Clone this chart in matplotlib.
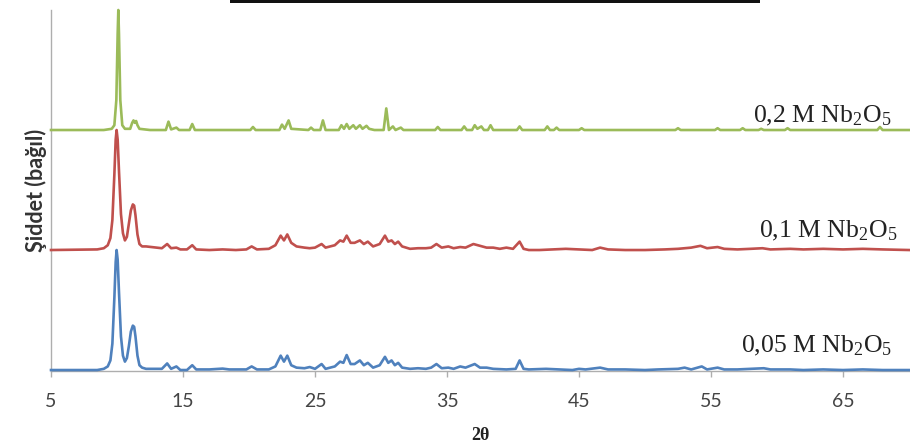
import matplotlib
matplotlib.use("Agg")
import matplotlib.pyplot as plt
from matplotlib.patches import Rectangle

plt.rcParams['mathtext.fontset'] = 'custom'
plt.rcParams['mathtext.rm'] = 'Liberation Serif'
plt.rcParams['mathtext.it'] = 'Liberation Serif:italic'
plt.rcParams['mathtext.bf'] = 'Liberation Serif:bold'

# ---- data (2theta, relative intensity above each pattern's baseline) ----
blue_2theta = [5.0, 8.5, 9.0, 9.3, 9.5, 9.65, 9.8, 9.9, 9.97, 10.05, 10.15, 10.3, 10.45, 10.6, 10.75, 10.9, 11.05, 11.2,
               11.3, 11.4, 11.55, 11.7, 11.9,
               12.2, 12.8, 13.4, 13.8, 14.1, 14.5, 14.8, 15.3, 15.7, 16.0, 17.0, 18.0, 18.5, 19.8, 20.2, 20.6, 21.5, 22.0,
               22.4, 22.65, 22.9, 23.2, 23.6, 24.2, 24.6, 25.0, 25.5, 25.8, 26.5, 26.9, 27.15, 27.4, 27.7, 28.0, 28.4, 28.7,
               29.0, 29.4, 29.9, 30.3, 30.55, 30.8, 31.05, 31.3, 31.6, 32.2, 32.8, 33.4, 33.8, 34.2, 34.6, 35.1, 35.5, 36.0,
               36.4, 37.1, 37.5, 38.0, 38.5, 39.5, 40.2, 40.5, 40.8, 41.2, 42.5, 43.5, 44.5, 45.0, 45.5, 46.6, 47.2, 48.5,
               50.0, 51.0, 52.5, 53.0, 53.5, 54.3, 54.7, 55.5, 56.0, 57.0, 58.0, 59.0, 59.5, 61.0, 62.0, 63.5, 65.0, 66.5,
               68.0, 70.0]
blue_I = [0.0, 0.0, 0.01, 0.03, 0.08, 0.22, 0.6, 0.9, 1.0, 0.92, 0.65, 0.28, 0.12, 0.07, 0.1, 0.2, 0.32, 0.37,
          0.36, 0.28, 0.12, 0.04, 0.02,
          0.01, 0.01, 0.01, 0.055, 0.01, 0.03, 0.0, 0.0, 0.04, 0.005, 0.005, 0.012, 0.005, 0.005, 0.03, 0.005, 0.005, 0.03,
          0.12, 0.07, 0.12, 0.04, 0.02, 0.015, 0.025, 0.01, 0.05, 0.01, 0.03, 0.07, 0.06, 0.125, 0.05, 0.05, 0.08, 0.04,
          0.06, 0.02, 0.04, 0.11, 0.06, 0.08, 0.04, 0.06, 0.02, 0.01, 0.015, 0.01, 0.02, 0.05, 0.015, 0.02, 0.01, 0.03,
          0.02, 0.05, 0.02, 0.02, 0.01, 0.005, 0.01, 0.08, 0.01, 0.005, 0.01, 0.005, 0.0, 0.01, 0.005, 0.02, 0.005, 0.005,
          0.0, 0.005, 0.01, 0.02, 0.005, 0.03, 0.005, 0.02, 0.005, 0.005, 0.01, 0.015, 0.005, 0.005, 0.0, 0.005, 0.0, 0.005,
          0.0, 0.0]

red_2theta = [5.0, 8.5, 9.0, 9.3, 9.5, 9.65, 9.8, 9.9, 9.97, 10.05, 10.15, 10.3, 10.45, 10.6, 10.75, 10.9, 11.05, 11.2,
              11.3, 11.4, 11.55, 11.7, 11.9,
              12.2, 12.6, 13.0, 13.4, 13.8, 14.1, 14.5, 14.8, 15.3, 15.7, 16.0, 17.0, 18.0, 19.0, 19.8, 20.2, 20.6, 21.5, 22.0,
              22.4, 22.65, 22.9, 23.2, 23.6, 24.2, 24.6, 25.0, 25.5, 25.8, 26.5, 26.9, 27.15, 27.4, 27.7, 28.0, 28.4, 28.7,
              29.0, 29.4, 29.9, 30.3, 30.55, 30.8, 31.05, 31.3, 31.6, 32.2, 32.8, 33.4, 33.8, 34.2, 34.6, 35.1, 35.5, 36.0,
              36.4, 37.0, 37.5, 38.0, 38.5, 39.0, 39.5, 40.0, 40.5, 40.8, 41.2, 42.0, 43.0, 44.0, 45.0, 46.0, 46.6, 47.2,
              48.5, 50.0, 51.5, 52.5, 53.5, 54.2, 54.7, 55.5, 56.0, 57.0, 58.0, 58.9, 59.5, 61.0, 62.0, 63.5, 65.0, 66.5,
              68.0, 70.0]
red_I = [0.0, 0.005, 0.015, 0.04, 0.1, 0.25, 0.63, 0.92, 1.0, 0.92, 0.66, 0.3, 0.14, 0.08, 0.11, 0.22, 0.33, 0.38,
         0.37, 0.29, 0.13, 0.05, 0.03,
         0.03, 0.025, 0.02, 0.015, 0.05, 0.015, 0.02, 0.005, 0.005, 0.04, 0.005, 0.0, 0.005, 0.0, 0.005, 0.03, 0.005, 0.01, 0.04,
         0.12, 0.08, 0.13, 0.06, 0.03, 0.02, 0.015, 0.02, 0.05, 0.02, 0.04, 0.08, 0.07, 0.12, 0.06, 0.06, 0.08, 0.05,
         0.07, 0.03, 0.05, 0.12, 0.07, 0.08, 0.05, 0.07, 0.03, 0.01, 0.015, 0.015, 0.02, 0.05, 0.02, 0.03, 0.015, 0.025,
         0.02, 0.05, 0.035, 0.02, 0.02, 0.01, 0.02, 0.01, 0.07, 0.01, 0.0, 0.0, 0.005, 0.01, 0.005, 0.0, 0.02, 0.005,
         0.0, 0.0, 0.005, 0.01, 0.02, 0.035, 0.015, 0.025, 0.01, 0.005, 0.01, 0.015, 0.005, 0.01, 0.005, 0.01, 0.005, 0.01,
         0.005, 0.0]

green_2theta = [5.0, 9.0, 9.6, 9.8, 9.95, 10.05, 10.1, 10.15, 10.25, 10.4, 10.6, 11.0, 11.15, 11.25, 11.35, 11.45, 11.55, 11.7,
                12.5, 13.7, 13.9, 14.1,
                14.5, 14.7, 15.5, 15.7, 15.9, 20.1, 20.3, 20.5, 22.3, 22.5, 22.7, 23.0, 23.2, 24.5, 24.7, 24.9, 25.4, 25.6,
                25.8, 26.8, 27.0, 27.2, 27.4, 27.6, 27.9, 28.1, 28.4, 28.6, 28.9, 29.1, 29.5, 30.2, 30.4, 30.6, 30.9, 31.1,
                31.5, 31.7, 34.1, 34.3, 34.5, 36.1, 36.3, 36.5, 36.9, 37.1, 37.3, 37.6, 37.8, 38.1, 38.3, 38.5, 40.3, 40.5,
                40.7, 42.4, 42.6, 42.8, 43.1, 43.3, 43.5, 45.0, 45.2, 45.4, 52.3, 52.5, 52.7, 55.3, 55.5, 55.7, 57.2, 57.4,
                57.6, 58.6, 58.8, 59.0, 60.6, 60.8, 61.0, 67.6, 67.8, 68.0, 70.0]
green_I = [0.0, 0.0, 0.01, 0.04, 0.25, 0.8, 1.0, 0.8, 0.25, 0.04, 0.01, 0.01, 0.06, 0.08, 0.06, 0.075, 0.04, 0.01,
           0.0, 0.0, 0.07, 0.005,
           0.02, 0.0, 0.0, 0.05, 0.0, 0.0, 0.025, 0.0, 0.0, 0.045, 0.01, 0.08, 0.01, 0.0, 0.02, 0.0, 0.0, 0.08,
           0.0, 0.0, 0.04, 0.01, 0.05, 0.01, 0.04, 0.01, 0.04, 0.01, 0.035, 0.01, 0.0, 0.0, 0.18, 0.0, 0.03, 0.0,
           0.02, 0.0, 0.0, 0.025, 0.0, 0.0, 0.03, 0.0, 0.0, 0.04, 0.01, 0.03, 0.0, 0.0, 0.04, 0.0, 0.0, 0.03,
           0.0, 0.0, 0.03, 0.0, 0.0, 0.02, 0.0, 0.0, 0.015, 0.0, 0.0, 0.015, 0.0, 0.0, 0.015, 0.0, 0.0, 0.015,
           0.0, 0.0, 0.01, 0.0, 0.0, 0.015, 0.0, 0.0, 0.025, 0.0, 0.0]

series_labels = ['0,05 M Nb$_2$O$_5$', '0,1 M Nb$_2$O$_5$', '0,2 M Nb$_2$O$_5$']
x_ticks = [5, 15, 25, 35, 45, 55, 65]

# ---- figure ----
fig = plt.figure(figsize=(9.10, 4.47), dpi=100)
ax = fig.add_axes([51 / 910, 1 - 371 / 447, 858 / 910, 361 / 447])

offsets = [0.0, 1.0, 2.0]
colors = ['#4F81BD', '#C0504D', '#9BBB59']
data = [(blue_2theta, blue_I), (red_2theta, red_I), (green_2theta, green_I)]
for (xs, ys), off, c in zip(data, offsets, colors):
    ax.plot(xs, [v + off for v in ys], color=c, lw=1.9, solid_joinstyle='round', clip_on=False, zorder=3)

# series labels
label_pos = [(68.7, 0.10), (69.1, 1.06), (68.7, 2.02)]
for (lx, ly), txt in zip(label_pos, series_labels):
    ax.text(lx, ly, txt, ha='right', va='bottom', fontsize=18.5, family='Liberation Serif', color='#222222')

ax.set_xlim(5, 70)
ax.set_ylim(-0.008, 3.0)
ax.set_xticks(x_ticks)
ax.set_xticklabels([str(t) for t in x_ticks])
ax.set_yticks([])
for s in ['top', 'right']:
    ax.spines[s].set_visible(False)
for s in ['left', 'bottom']:
    ax.spines[s].set_color('#AEAEAE')
    ax.spines[s].set_linewidth(1.0)
ax.tick_params(axis='x', direction='out', length=4, width=1.0, color='#AEAEAE', pad=12,
               labelsize=14, labelcolor='#444444')
for lbl in ax.get_xticklabels():
    lbl.set_family('Lato')

ax.set_xlabel('2θ', fontsize=13, fontweight='bold', family='Liberation Serif', labelpad=12, color='#222222')
ax.set_ylabel('Şiddet (bağıl)', fontsize=15.5, fontweight='bold', family='Lato', labelpad=3, color='#333333')

# cropped dark bar at top edge of the original image
fig.add_artist(Rectangle((230 / 910, 1 - 3 / 447), 530 / 910, 3 / 447, transform=fig.transFigure,
                         color='#111111', lw=0))

fig.savefig('out.png', dpi=100)
